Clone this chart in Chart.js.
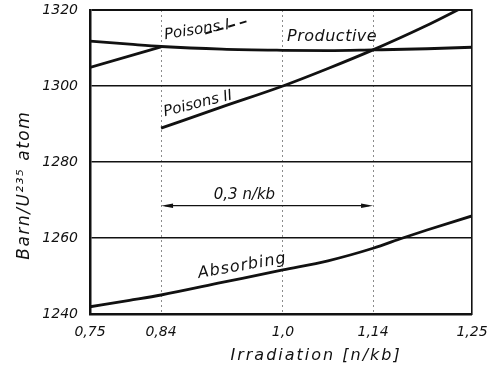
<!DOCTYPE html>
<html><head><meta charset="utf-8">
<script src="https://cdn.jsdelivr.net/npm/chart.js@4/dist/chart.umd.min.js"></script>
<style>html,body{margin:0;padding:0;background:#fff}canvas{display:block}</style>
</head><body>
<canvas id="c" width="488" height="367"></canvas>
<script>
// ---- data ----
const xTickValues = [0.75, 0.84, 1.0, 1.14, 1.25];
const xTickLabels = ['0,75', '0,84', '1,0', '1,14', '1,25'];
const yTickLabels = ['1240', '1260', '1280', '1300', '1320'];

const productiveX = [0.75, 0.80, 0.84, 0.92, 1.0, 1.07, 1.14, 1.20, 1.25];
const productiveY = [1311.8, 1311.0, 1310.4, 1309.7, 1309.4, 1309.3, 1309.5, 1309.8, 1310.2];
const poisonsIX = [0.75, 0.84];
const poisonsIY = [1304.9, 1310.3];
const poisonsIDashX = [0.898, 0.957];
const poisonsIDashY = [1313.8, 1317.3];
const poisonsIIX = [0.84, 0.92, 1.0, 1.07, 1.14, 1.196, 1.234, 1.25];
const poisonsIIY = [1288.9, 1294.5, 1300.0, 1304.6, 1309.5, 1315.5, 1320.0, 1322.0];
const absorbingX = [0.75, 0.80, 0.84, 0.92, 1.0, 1.07, 1.14, 1.173, 1.20, 1.25];
const absorbingY = [1241.9, 1243.6, 1245.0, 1248.3, 1251.6, 1254.0, 1257.3, 1260.0, 1262.1, 1265.8];
const spanX = [0.84, 1.14];
const spanY = 1268.5;
const spanLabel = '0,3 n/kb';
const xTitle = 'Irradiation [n/kb]';
const yTitle = 'Barn/U\u00B2\u00B3\u2075 atom';

// ---- layout / style ----
// the printed axis has hand-placed ticks: fraction of the axis width for each tick
const xTickPlacement = [0, 0.186, 0.505, 0.741, 1];
const curveLabels = [
  {text: 'Poisons I',  x: 0.887, y: 1314.7, rot: -9, size: 15, sp: 0},
  {text: 'Productive', x: 1.076, y: 1312.9, rot: 0, size: 16, sp: 0.5},
  {text: 'Poisons II', x: 0.8885, y: 1295.3, rot: -14, size: 15, sp: 0},
  {text: 'Absorbing',  x: 0.946, y: 1252.6, rot: -10, size: 16, sp: 1},
  {text: spanLabel,    x: 0.9495, y: 1271.3, rot: 0, size: 15, sp: 0}
];
const INK = '#111';
const FONT = 'DejaVu Sans';

function toFraction(v) {
  const t = xTickValues, f = xTickPlacement;
  let i = 0;
  while (i < t.length - 2 && v > t[i + 1]) i++;
  return f[i] + (v - t[i]) / (t[i + 1] - t[i]) * (f[i + 1] - f[i]);
}
function fromFraction(d) {
  const t = xTickValues, f = xTickPlacement;
  let i = 0;
  while (i < f.length - 2 && d > f[i + 1]) i++;
  return t[i] + (d - f[i]) / (f[i + 1] - f[i]) * (t[i + 1] - t[i]);
}
class KnotScale extends Chart.LinearScale {
  getPixelForValue(value) {
    if (value === null || value === undefined || isNaN(value)) return NaN;
    return this.getPixelForDecimal(toFraction(value));
  }
  getValueForPixel(pixel) {
    return fromFraction(this.getDecimalForPixel(pixel));
  }
}
KnotScale.id = 'knot';
Chart.register(KnotScale);

function pts(xs, ys) { return xs.map((x, i) => ({x, y: ys[i]})); }
function line(data, extra) {
  return Object.assign({data, borderColor: INK, borderWidth: 2.8, pointRadius: 0,
    fill: false, cubicInterpolationMode: 'monotone'}, extra || {});
}
function noOverhang(s) { s.paddingLeft = 0; s.paddingRight = 0; s.paddingTop = 0; s.paddingBottom = 0; }
function spaced(ctx, text, px, py, sp) {
  // centred text with extra letter spacing
  if ('letterSpacing' in ctx) {
    ctx.letterSpacing = sp + 'px';
    ctx.fillText(text, px + sp / 2, py);
    ctx.letterSpacing = '0px';
  } else {
    ctx.fillText(text, px, py);
  }
}

const annot = {
  id: 'annot',
  afterDatasetsDraw(chart) {
    const {ctx, scales: {x, y}} = chart;
    ctx.save();
    ctx.fillStyle = INK;
    ctx.strokeStyle = INK;
    // span arrow
    const x1 = x.getPixelForValue(spanX[0]), x2 = x.getPixelForValue(spanX[1]);
    const yy = y.getPixelForValue(spanY);
    ctx.lineWidth = 1.3;
    ctx.beginPath(); ctx.moveTo(x1 + 4, yy); ctx.lineTo(x2 - 4, yy); ctx.stroke();
    [[x1, 1], [x2, -1]].forEach(([px, d]) => {
      ctx.beginPath();
      ctx.moveTo(px, yy);
      ctx.lineTo(px + d * 12, yy - 2.2);
      ctx.lineTo(px + d * 12, yy + 2.2);
      ctx.closePath(); ctx.fill();
    });
    // curve labels
    ctx.textAlign = 'center';
    ctx.textBaseline = 'middle';
    curveLabels.forEach(l => {
      ctx.save();
      ctx.font = 'italic ' + l.size + 'px "' + FONT + '"';
      ctx.translate(x.getPixelForValue(l.x), y.getPixelForValue(l.y));
      ctx.rotate(l.rot * Math.PI / 180);
      spaced(ctx, l.text, 0, 0, l.sp);
      ctx.restore();
    });
    // axis titles
    ctx.font = 'italic 16px "' + FONT + '"';
    spaced(ctx, xTitle, x.getPixelForValue(1.05), chart.chartArea.bottom + 42, 2);
    ctx.font = 'italic 17px "' + FONT + '"';
    ctx.save();
    ctx.translate(chart.chartArea.left - 65, y.getPixelForValue(1273.7));
    ctx.rotate(-Math.PI / 2);
    spaced(ctx, yTitle, 0, 0, 1.5);
    ctx.restore();
    ctx.restore();
  }
};

new Chart(document.getElementById('c'), {
  type: 'line',
  data: {
    datasets: [
      line(pts(productiveX, productiveY)),
      line(pts(poisonsIX, poisonsIY), {cubicInterpolationMode: 'default', tension: 0}),
      line(pts(poisonsIDashX, poisonsIDashY), {borderWidth: 2, borderDash: [7, 5], tension: 0, cubicInterpolationMode: 'default'}),
      line(pts(poisonsIIX, poisonsIIY)),
      line(pts(absorbingX, absorbingY))
    ]
  },
  options: {
    responsive: false,
    animation: false,
    devicePixelRatio: 1,
    layout: {padding: {top: 10, right: 16, left: 0, bottom: 0}},
    plugins: {legend: {display: false}, tooltip: {enabled: false}},
    scales: {
      x: {
        type: 'knot', min: 0.75, max: 1.25,
        afterBuildTicks: s => { s.ticks = xTickValues.map(v => ({value: v})); },
        afterFit: s => { s.height = 53; noOverhang(s); },
        ticks: {callback: (v, i) => xTickLabels[i], color: INK, padding: 10,
          maxRotation: 0, autoSkip: false,
          font: {family: FONT, style: 'italic', size: 14}},
        grid: {drawTicks: false, color: '#8c8c8c',
          lineWidth: c => (c.index === 0 || c.index === xTickValues.length - 1) ? 0 : 1},
        border: {display: true, color: INK, width: 2.5, dash: [2, 3]}
      },
      y: {
        type: 'linear', min: 1240, max: 1320,
        afterBuildTicks: s => { s.ticks = yTickLabels.map(t => ({value: Number(t)})); },
        afterFit: s => { s.width = 90; noOverhang(s); },
        ticks: {callback: (v, i) => yTickLabels[i], color: INK, padding: 12,
          font: {family: FONT, style: 'italic', size: 14}},
        grid: {drawTicks: false, color: INK,
          lineWidth: c => c.tick.value === 1240 ? 0 : (c.tick.value === 1320 ? 2 : 1.4)},
        border: {display: true, color: INK, width: 2.5}
      },
      y2: {
        type: 'linear', position: 'right', min: 1240, max: 1320,
        afterFit: s => { s.width = 0; noOverhang(s); },
        ticks: {display: false},
        grid: {drawOnChartArea: false, drawTicks: false},
        border: {display: true, color: INK, width: 1.6}
      }
    }
  },
  plugins: [annot]
});
</script>
</body></html>
